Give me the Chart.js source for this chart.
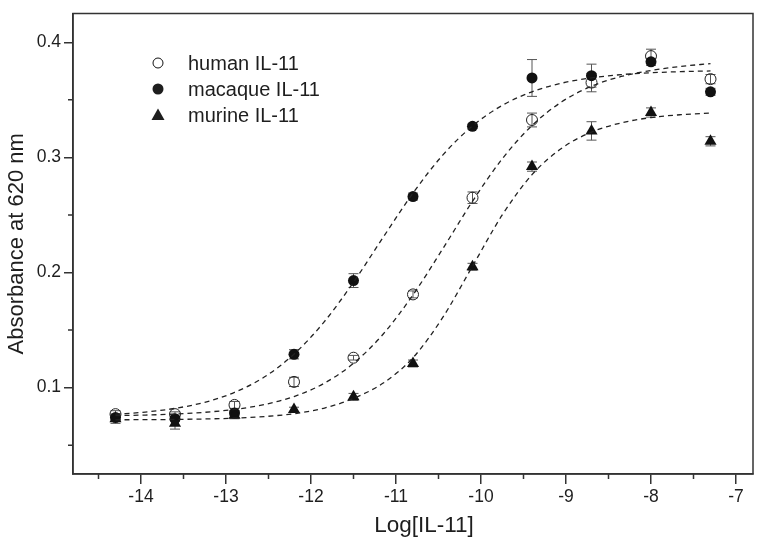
<!DOCTYPE html>
<html><head><meta charset="utf-8">
<script src="https://cdn.jsdelivr.net/npm/chart.js@4.4.0/dist/chart.umd.min.js"></script>
<style>html,body{margin:0;padding:0;background:#fff}#wrap{width:762px;height:544px}</style>
</head><body><div id="wrap"><canvas id="c" width="762" height="544"></canvas></div>
<script>
// ---- data ----
const doseLog = [-14.3, -13.6, -12.9, -12.2, -11.5, -10.8, -10.1, -9.4, -8.7, -8.0, -7.3];
const humanY   = [0.077, 0.077, 0.085, 0.105, 0.126, 0.181, 0.265, 0.3325, 0.365, 0.388, 0.368];
const humanErr = [0.003, 0.002, 0.003, 0.004, 0.002, 0.003, 0.005, 0.006, 0.008, 0.006, 0.004];
const macaqueY   = [0.074, 0.073, 0.078, 0.129, 0.193, 0.266, 0.327, 0.369, 0.371, 0.383, 0.357];
const macaqueErr = [0.003, 0.002, 0.002, 0.004, 0.006, 0.003, 0.002, 0.016, 0.010, 0.003, 0.003];
const murineY   = [0.073, 0.069, 0.076, 0.081, 0.092, 0.121, 0.205, 0.292, 0.323, 0.339, 0.314];
const murineErr = [0.004, 0.005, 0.003, 0.002, 0.003, 0.003, 0.003, 0.004, 0.008, 0.004, 0.004];

// fitted (dashed) curves
const fitX = [-14.3, -13.95, -13.6, -13.25, -12.9, -12.55, -12.2, -11.85, -11.5, -11.15, -10.8, -10.45, -10.1, -9.75, -9.4, -9.05, -8.7, -8.35, -8.0, -7.65, -7.3];
const humanFit   = [0.0757, 0.0762, 0.0771, 0.0786, 0.0811, 0.0853, 0.0923, 0.1036, 0.1211, 0.1466, 0.1806, 0.2206, 0.2619, 0.2988, 0.3277, 0.3483, 0.3618, 0.3703, 0.3755, 0.3790, 0.3815];
const macaqueFit = [0.0769, 0.0788, 0.0820, 0.0873, 0.0959, 0.1092, 0.1291, 0.1567, 0.1916, 0.2307, 0.2690, 0.3020, 0.3273, 0.3452, 0.3570, 0.3645, 0.3691, 0.3719, 0.3735, 0.3745, 0.3751];
const murineFit  = [0.0721, 0.0722, 0.0724, 0.0728, 0.0735, 0.0749, 0.0774, 0.0821, 0.0907, 0.1040, 0.1260, 0.1610, 0.2055, 0.2500, 0.2850, 0.3080, 0.3220, 0.3300, 0.3346, 0.3371, 0.3385];

const seriesNames = ['human IL-11', 'macaque IL-11', 'murine IL-11'];
const xTicks = [-14, -13, -12, -11, -10, -9, -8, -7];
const xMinorTicks = [-14.5, -13.5, -12.5, -11.5, -10.5, -9.5, -8.5, -7.5];
const yTicks = [0.1, 0.2, 0.3, 0.4];
const yMinorTicks = [0.05, 0.15, 0.25, 0.35];
const xTitle = 'Log[IL-11]';
const yTitle = 'Absorbance at 620 nm';

// ---- chart ----
const FONT = '"Liberation Sans", Arial, sans-serif';
Chart.defaults.font.family = FONT;
const INK = '#1e1e1e';
const pts = (xs, ys) => xs.map((x, i) => ({x: x, y: ys[i]}));

const fitStyle = {showLine: true, pointRadius: 0, borderColor: '#222', borderWidth: 1.3,
  borderDash: [5, 4], cubicInterpolationMode: 'monotone', fill: false};

const errSets = [
  {ys: humanY, err: humanErr},
  {ys: macaqueY, err: macaqueErr},
  {ys: murineY, err: murineErr}
];

const frameAndExtras = {
  id: 'extras',
  beforeDatasetsDraw(chart) {
    const ctx = chart.ctx, xs = chart.scales.x, ys = chart.scales.y;
    ctx.save();
    ctx.strokeStyle = '#555';
    ctx.lineWidth = 1;
    errSets.forEach(s => {
      doseLog.forEach((xv, i) => {
        const px = xs.getPixelForValue(xv);
        const y1 = ys.getPixelForValue(s.ys[i] - s.err[i]);
        const y2 = ys.getPixelForValue(s.ys[i] + s.err[i]);
        ctx.beginPath();
        ctx.moveTo(px, y1); ctx.lineTo(px, y2);
        ctx.moveTo(px - 5, y1); ctx.lineTo(px + 5, y1);
        ctx.moveTo(px - 5, y2); ctx.lineTo(px + 5, y2);
        ctx.stroke();
      });
    });
    ctx.restore();
  },
  afterDraw(chart) {
    const ctx = chart.ctx, a = chart.chartArea, xs = chart.scales.x, ys = chart.scales.y;
    ctx.save();
    ctx.strokeStyle = '#333';
    ctx.lineWidth = 1.5;
    ctx.strokeRect(a.left, a.top, a.right - a.left, a.bottom - a.top);
    ctx.beginPath();
    xMinorTicks.forEach(v => {
      const px = xs.getPixelForValue(v);
      ctx.moveTo(px, a.bottom); ctx.lineTo(px, a.bottom + 5);
    });
    yMinorTicks.forEach(v => {
      const py = ys.getPixelForValue(v);
      ctx.moveTo(a.left - 5, py); ctx.lineTo(a.left, py);
    });
    ctx.stroke();
    // x-axis title (sits slightly right of the axis centre in the original)
    ctx.fillStyle = INK;
    ctx.font = '22.5px ' + FONT;
    ctx.textAlign = 'center';
    ctx.textBaseline = 'middle';
    ctx.fillText(xTitle, (a.left + a.right) / 2 + 11, 526);
    // legend
    const lx = 158, ly = [63, 89, 115];
    ctx.strokeStyle = '#111';
    ctx.lineWidth = 1;
    ctx.beginPath(); ctx.arc(lx, ly[0], 5, 0, Math.PI * 2); ctx.stroke();
    ctx.beginPath(); ctx.arc(lx, ly[1], 5.5, 0, Math.PI * 2); ctx.fill();
    ctx.beginPath();
    ctx.moveTo(lx, ly[2] - 6.5); ctx.lineTo(lx + 6.5, ly[2] + 5); ctx.lineTo(lx - 6.5, ly[2] + 5);
    ctx.closePath(); ctx.fill();
    ctx.font = '20px ' + FONT;
    ctx.textAlign = 'left';
    seriesNames.forEach((n, i) => ctx.fillText(n, 188, ly[i] + 1));
    ctx.restore();
  }
};

new Chart(document.getElementById('c'), {
  type: 'scatter',
  data: {
    datasets: [
      Object.assign({label: 'human fit', data: pts(fitX, humanFit)}, fitStyle),
      Object.assign({label: 'macaque fit', data: pts(fitX, macaqueFit)}, fitStyle),
      Object.assign({label: 'murine fit', data: pts(fitX, murineFit)}, fitStyle),
      {label: seriesNames[2], data: pts(doseLog, murineY), pointStyle: 'triangle', pointRadius: 7,
        backgroundColor: '#111', borderColor: '#111', borderWidth: 0},
      {label: seriesNames[1], data: pts(doseLog, macaqueY), pointStyle: 'circle', pointRadius: 5.5,
        backgroundColor: '#111', borderColor: '#111', borderWidth: 0},
      {label: seriesNames[0], data: pts(doseLog, humanY), pointStyle: 'circle', pointRadius: 5.5,
        backgroundColor: 'rgba(0,0,0,0)', borderColor: '#222', borderWidth: 1}
    ]
  },
  options: {
    responsive: false,
    animation: false,
    devicePixelRatio: 1,
    layout: {padding: {top: 8, right: 9, left: 0, bottom: 0}},
    plugins: {legend: {display: false}, tooltip: {enabled: false}},
    scales: {
      x: {
        type: 'linear', min: -14.8, max: -6.8,
        afterBuildTicks: s => { s.ticks = xTicks.map(v => ({value: v})); },
        afterFit: s => { s.height = 70; },
        ticks: {font: {size: 17.5}, color: INK, padding: 3, maxRotation: 0,
          callback: v => String(v)},
        grid: {drawOnChartArea: false, tickLength: 10, color: '#333', lineWidth: 1.5},
        border: {display: true, color: '#333', width: 1.5},
        title: {display: false, text: xTitle}
      },
      y: {
        type: 'linear', min: 0.025, max: 0.425,
        afterBuildTicks: s => { s.ticks = yTicks.map(v => ({value: v})); },
        afterFit: s => { s.width = 73; },
        ticks: {font: {size: 17.5}, color: INK, padding: 3, callback: v => v.toFixed(1)},
        grid: {drawOnChartArea: false, tickLength: 9, color: '#333', lineWidth: 1.5},
        border: {display: true, color: '#333', width: 1.5},
        title: {display: true, text: yTitle, font: {size: 22}, color: INK, padding: {top: 4, bottom: 0}}
      }
    }
  },
  plugins: [frameAndExtras]
});
</script>
</body></html>
